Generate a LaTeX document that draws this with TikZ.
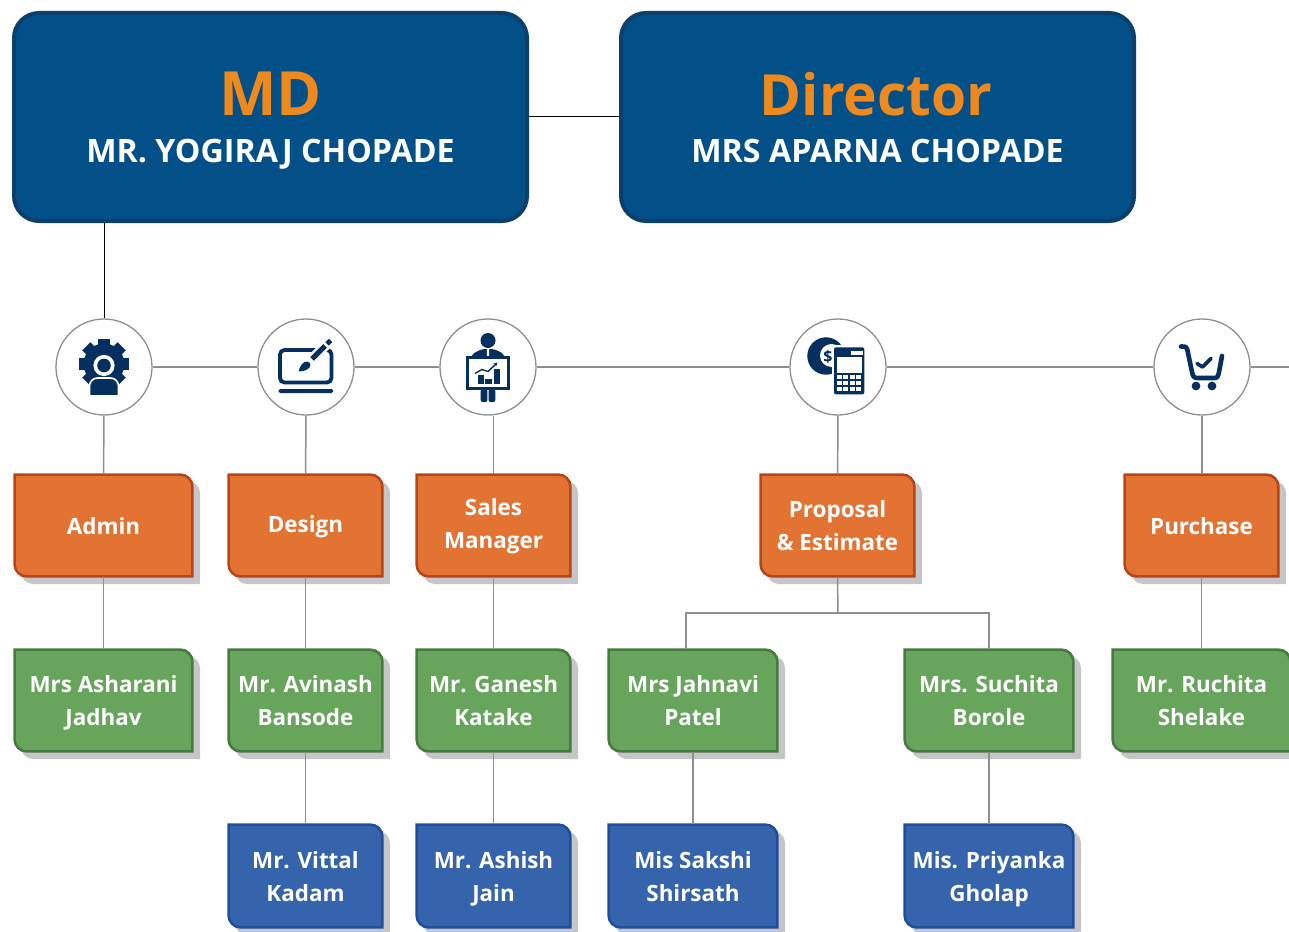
\documentclass[tikz,border=0pt]{standalone}
\usepackage{fontspec}
\setmainfont{Open Sans}
\usetikzlibrary{positioning, arrows.meta}

\definecolor{bossfill}{HTML}{034F88}
\definecolor{bossline}{HTML}{0B3F6C}
\definecolor{titleorange}{HTML}{EE8A1D}
\definecolor{orangefill}{HTML}{E27332}
\definecolor{orangeline}{HTML}{B5461B}
\definecolor{greenfill}{HTML}{68A55C}
\definecolor{greenline}{HTML}{477A3E}
\definecolor{bluefill}{HTML}{3563AC}
\definecolor{blueline}{HTML}{1F4E9E}
\definecolor{shadowgray}{HTML}{C6C6C8}
\definecolor{linkgray}{HTML}{8F8F8F}
\definecolor{iconnavy}{HTML}{042F5E}

\tikzset{
    bossbox/.style={draw=bossline, fill=bossfill, line width=4pt, rounded corners=25pt,
        minimum width=513pt, minimum height=208pt, inner sep=0pt},
    titletext/.style={anchor=base, text=titleorange, font=\fontsize{#1}{60}\selectfont\bfseries},
    nametext/.style={anchor=base, text=white, font=\fontsize{32.2}{34}\selectfont\bfseries},
    orangebox/.style={draw=orangeline, fill=orangefill},
    greenbox/.style={draw=greenline, fill=greenfill},
    bluebox/.style={draw=blueline, fill=bluefill},
    boxtext/.style={text=white, align=center, inner sep=0pt, font=\fontsize{22.4}{32.8}\selectfont\bfseries,
        execute at begin node=\strut, execute at end node=\strut},
    iconring/.style={circle, draw=linkgray, fill=white, line width=1.3pt, minimum size=96pt, inner sep=0pt},
    bossline/.style={draw=black, line width=1pt},
    linkline/.style={draw=linkgray, line width=1.5pt},
}

% [text shift], style, name, left, top, width, height, text
\newcommand{\orgbox}[8][5]{
    \fill[shadowgray] (#4+7,#5+7) [rounded corners=12pt] -- ++(#6,0) [sharp corners] -- ++(0,#7)
        [rounded corners=12pt] -- ++(-#6,0) [sharp corners] -- cycle;
    \draw[#2, line width=2.6pt] (#4+0.6,#5+0.6) [rounded corners=12pt] -- ++(#6-1.2,0) [sharp corners] -- ++(0,#7-1.2)
        [rounded corners=12pt] -- ++(-#6+1.2,0) [sharp corners] -- cycle;
    \node[minimum width=#6pt, minimum height=#7pt, inner sep=0pt] (#3) at (#4+#6/2,#5+#7/2) {};
    \node[boxtext] (#3text) at (#4+#6/2,#5+#7/2+#1) {#8};
}

\begin{document}
\begin{tikzpicture}[x=1pt, y=-1pt]
    \path[use as bounding box, clip] (0,0) rectangle (1289,931);

    % Direccion
    \node[bossbox] (md) at (270.5,117) {};
    \node[bossbox] (director) at (877.5,117) {};
    \node[titletext=61] (mdtitle) at (270.5,115) {MD};
    \node[nametext] (mdname) at (270.5,162) {MR. YOGIRAJ CHOPADE};
    \node[titletext=56.8] (directortitle) at (876,115) {Director};
    \node[nametext] (directorname) at (877.5,162) {MRS APARNA CHOPADE};

    % Iconos
    \node[iconring] (adminicon) at (104,367) {};
    \node[iconring] (designicon) at (306,367) {};
    \node[iconring] (salesicon) at (488,367) {};
    \node[iconring] (proposalicon) at (838,367) {};
    \node[iconring] (purchaseicon) at (1202,367) {};
    \coordinate (lineend) at (1289,367);

    % Departamentos
    \orgbox[2.3]{orangebox}{admin}{14}{474}{179}{103}{Admin}
    \orgbox[0.7]{orangebox}{design}{228}{474}{155}{103}{Design}
    \orgbox[3]{orangebox}{sales}{416}{474}{155}{103}{Sales\\Manager}
    \orgbox{orangebox}{proposal}{760}{474}{155}{103}{Proposal\\\& Estimate}
    \orgbox[2.3]{orangebox}{purchase}{1124}{474}{155}{103}{Purchase}

    % Responsables
    \orgbox{greenbox}{asharani}{14}{649}{179}{103}{Mrs Asharani\\Jadhav}
    \orgbox{greenbox}{avinash}{228}{649}{155}{103}{Mr. Avinash\\Bansode}
    \orgbox{greenbox}{ganesh}{416}{649}{155}{103}{Mr. Ganesh\\Katake}
    \orgbox{greenbox}{jahnavi}{608}{649}{170}{103}{Mrs Jahnavi\\Patel}
    \orgbox{greenbox}{suchita}{904}{649}{170}{103}{Mrs. Suchita\\Borole}
    \orgbox{greenbox}{ruchita}{1112}{649}{179}{103}{Mr. Ruchita\\Shelake}

    % Equipo
    \orgbox[5.5]{bluebox}{vittal}{228}{824}{155}{104}{Mr. Vittal\\Kadam}
    \orgbox[5.5]{bluebox}{ashish}{416}{824}{155}{104}{Mr. Ashish\\Jain}
    \orgbox[5.5]{bluebox}{sakshi}{608}{824}{170}{104}{Mis Sakshi\\Shirsath}
    \orgbox[5.5]{bluebox}{priyanka}{904}{824}{170}{104}{Mis. Priyanka\\Gholap}

    % Conexiones
    \draw[bossline] (md) -- (director);
    \draw[bossline] (adminicon.north |- md.south) -- (adminicon.north);
    \draw[linkline] (adminicon) -- (designicon);
    \draw[linkline] (designicon) -- (salesicon);
    \draw[linkline] (salesicon) -- (proposalicon);
    \draw[linkline] (proposalicon) -- (purchaseicon);
    \draw[linkline] (purchaseicon) -- (lineend);
    \draw[linkline] (adminicon) -- (admin);
    \draw[linkline] (designicon) -- (design);
    \draw[linkline] (sales.north) -- (sales.north |- salesicon.south);
    \draw[linkline] (proposalicon) -- (proposal);
    \draw[linkline] (purchaseicon.south) -- (purchaseicon.south |- purchase.north);
    \draw[linkline] (admin) -- (asharani);
    \draw[linkline] (design) -- (avinash);
    \draw[linkline] (sales) -- (ganesh);
    \draw[linkline] (purchase.south) -- (purchase.south |- ruchita.north);
    \draw[linkline] (avinash) -- (vittal);
    \draw[linkline] (ganesh) -- (ashish);
    \draw[linkline] (jahnavi) -- (sakshi);
    \draw[linkline] (suchita) -- (priyanka);
    \coordinate (split) at (838,613);
    \draw[linkline] (proposal.south) -- (split);
    \draw[linkline] ([xshift=-7pt]jahnavi.north) |- (split);
    \draw[linkline] (suchita.north) |- (split);

    % Engranaje
    \begin{scope}[shift={(adminicon.center)}]
        \foreach \ang in {0,45,...,315}
            \fill[iconnavy, rotate around={\ang:(0,-3)}] (-5.8,-28) rectangle (5.8,-10);
        \fill[iconnavy] (0,-3) circle (20.5);
        \fill[white] (0,-1.5) circle (10.6);
        \fill[iconnavy] (0,-1.5) circle (6.8);
        \fill[iconnavy, draw=white, line width=1.6pt, rounded corners=8pt] (-14.5,29) -- (-14.5,11) -- (14.5,11) -- (14.5,29);
        \fill[white] (-25,28.4) rectangle (25,40);
    \end{scope}

    % Pantalla y pincel
    \begin{scope}[shift={(designicon.center)}]
        \draw[iconnavy, line width=3.8pt, rounded corners=4.5pt] (-26,-17) rectangle (25.5,15.5);
        \fill[iconnavy, rounded corners=1.5pt] (-27.5,22) rectangle (27,26);
        \draw[white, line width=10pt] (7,-9) -- (26,-28);
        \draw[iconnavy, line width=5pt] (6,-8) -- (19,-21);
        \draw[iconnavy, line width=4.8pt] (21,-23) -- (24.5,-26.5);
        \fill[iconnavy] (-7.5,4.5) .. controls (-6,-1) and (-3,-6) .. (1.5,-5.5)
            .. controls (5.5,-4.5) and (5,0) .. (2,2) .. controls (-1,4) and (-4,4.5) .. (-7.5,4.5) -- cycle;
    \end{scope}

    % Persona con pizarra
    \begin{scope}[shift={(salesicon.center)}]
        \fill[iconnavy] (0,-26.5) circle (7.5);
        \fill[iconnavy, rounded corners=3pt] (-16,-9) -- (-16,-13) -- (-6,-18) -- (6,-18) -- (16,-13) -- (16,-9) -- cycle;
        \fill[white] (-1,-18) -- (1,-18) -- (1.2,-10) -- (-1.2,-10) -- cycle;
        \fill[iconnavy, rounded corners=2pt] (-7.3,22) -- (-7.3,35) -- (-0.6,35) -- (-0.6,22) -- cycle;
        \fill[iconnavy, rounded corners=2pt] (0.6,22) -- (0.6,35) -- (7.3,35) -- (7.3,22) -- cycle;
        \draw[iconnavy, fill=white, line width=2.6pt] (-20.7,-9.3) rectangle (20.7,21.3);
        \fill[iconnavy] (-10.5,8) rectangle (-4.5,16.5);
        \fill[iconnavy] (-3,11.5) rectangle (3.5,16.5);
        \fill[iconnavy] (5.5,1.5) rectangle (11.5,16.5);
        \draw[iconnavy, line width=1.4pt, -{Stealth[length=4pt,width=4pt]}] (-13,6.5) -- (-6,2.5) -- (0,4.5) -- (9.5,-4.5);
    \end{scope}

    % Moneda y calculadora
    \begin{scope}[shift={(proposalicon.center)}]
        \fill[iconnavy] (-12,-11) circle (18.7);
        \fill[white] (-6.5,-11.5) circle (11.5);
        \node[text=iconnavy, inner sep=0pt, font=\fontsize{16}{16}\selectfont\bfseries] (coinsign) at (-10,-10.5) {\$};
        \fill[white] (-6,-22) rectangle (28,30);
        \fill[iconnavy, rounded corners=2pt] (-4,-19.7) rectangle (26.3,27.3);
        \fill[white] (13,-16.5) rectangle (24.5,-12.5);
        \fill[white] (-1.5,-10.5) rectangle (23.5,5.5);
        \foreach \col in {0,1,2,3}
            \foreach \row in {0,1,2}
                \fill[white] (-1.5+\col*6.5,8+\row*5.8) rectangle ++(5,4.2);
    \end{scope}

    % Carrito
    \begin{scope}[shift={(purchaseicon.center)}]
        \draw[iconnavy, line width=4.6pt, line cap=round, line join=round] (-21,-20.5) .. controls (-15,-21) and (-15,-19) .. (-14,-14)
            -- (-10,5) .. controls (-9,10) and (-8,11) .. (-4,11) -- (12,11) .. controls (16,11) and (16,9) .. (17,5) -- (20,-11);
        \draw[iconnavy, line width=3.6pt, line cap=round, line join=round] (-5,-3.5) -- (0.5,0) -- (9,-8.5);
        \fill[iconnavy] (-6,19) circle (4.4);
        \fill[iconnavy] (10,19) circle (4.4);
    \end{scope}
\end{tikzpicture}
\end{document}
